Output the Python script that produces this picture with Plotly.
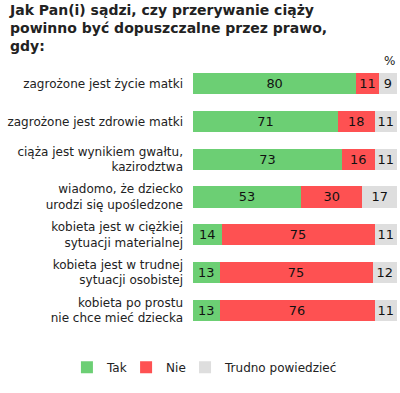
import plotly.graph_objects as go

categories = [
    "zagrożone jest życie matki",
    "zagrożone jest zdrowie matki",
    "ciąża jest wynikiem gwałtu,<br>kazirodztwa",
    "wiadomo, że dziecko<br>urodzi się upośledzone",
    "kobieta jest w ciężkiej<br>sytuacji materialnej",
    "kobieta jest w trudnej<br>sytuacji osobistej",
    "kobieta po prostu<br>nie chce mieć dziecka",
]
tak = [80, 71, 73, 53, 14, 13, 13]
nie = [11, 18, 16, 30, 75, 75, 76]
trudno = [9, 11, 11, 17, 11, 12, 11]

series = [("Tak", tak, "#6ccf74", "legend"),
          ("Nie", nie, "#fe5152", "legend2"),
          ("Trudno powiedzieć", trudno, "#dedede", "legend3")]

fig = go.Figure()
for name, vals, col, lg in series:
    fig.add_trace(go.Bar(
        y=categories, x=vals, name=name, orientation="h", legend=lg,
        marker=dict(color=col, line=dict(width=0)),
        text=[str(v) for v in vals], textposition="inside",
        insidetextanchor="middle", textangle=0,
        textfont=dict(color="#111111", size=13, family="DejaVu Sans"),
        width=0.56, hoverinfo="skip",
    ))

leg_common = dict(orientation="h", xanchor="left", y=-0.09, yanchor="top",
                  font=dict(size=12, color="#222222"), itemwidth=30,
                  bgcolor="rgba(0,0,0,0)")

fig.update_layout(
    barmode="stack",
    width=400, height=393,
    margin=dict(l=193, r=3, t=65, b=64, autoexpand=False),
    plot_bgcolor="white", paper_bgcolor="white",
    font=dict(family="DejaVu Sans", size=12, color="#222222"),
    uniformtext=dict(minsize=12, mode="show"),
    xaxis=dict(range=[0, 100], visible=False, fixedrange=True),
    yaxis=dict(autorange="reversed", showgrid=False, zeroline=False,
               ticks="", ticklabelstandoff=9, tickfont=dict(size=12, color="#222222")),
    showlegend=True,
    legend=dict(x=-0.618, **leg_common),
    legend2=dict(x=-0.328, **leg_common),
    legend3=dict(x=-0.039, **leg_common),
    annotations=[
        dict(text="<b>Jak Pan(i) sądzi, czy przerywanie ciąży<br>powinno być dopuszczalne przez prawo,<br>gdy:</b>",
             x=-0.91, y=1.245, xref="paper", yref="paper", xanchor="left", yanchor="top",
             align="left", showarrow=False,
             font=dict(size=14, color="#222222", family="DejaVu Sans")),
        dict(text="%", x=1.0, y=1.0, xref="paper", yref="paper",
             xanchor="right", yanchor="bottom", showarrow=False, yshift=-5,
             font=dict(size=12, color="#222222")),
    ],
)

fig.write_html("out.html", config={"displayModeBar": False},
               post_script="document.body.style.margin='0';document.body.style.overflow='hidden';")
